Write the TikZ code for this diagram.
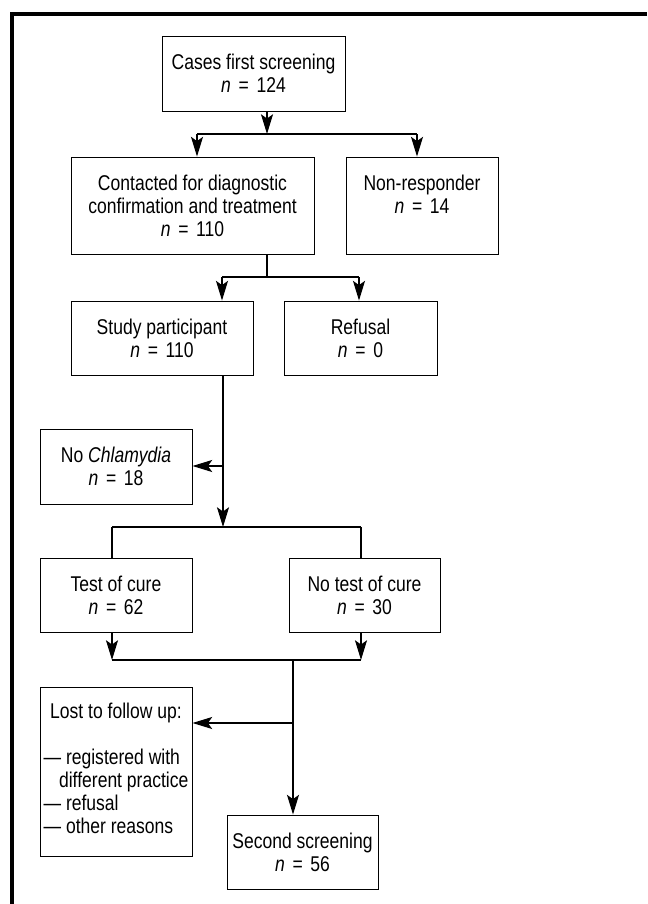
\documentclass[tikz,border=0pt]{standalone}
\usepackage{fontspec}
\setmainfont{Liberation Sans}[FakeStretch=0.82]
\usepackage{tikz}
\usetikzlibrary{positioning, arrows.meta, calc}
\newcommand{\ncount}[1]{\textit{n}\hspace{0.36em}=\hspace{0.36em}#1}

\begin{document}
\begin{tikzpicture}[
        x=0.025cm, y=-0.025cm,
        % Define node styles
        box/.style={draw, line width=0.6pt, rectangle, minimum width=3.8cm, minimum height=1.85cm, align=center, inner sep=2pt, font=\fontsize{15.2}{16.4}\selectfont},
        arr/.style={line width=1.3pt, -{Stealth[length=14pt, width=8.5pt, inset=3pt]}},
        link/.style={line width=1.3pt},
        frame/.style={line width=2.2pt}
    ]
    \useasboundingbox (0,0) rectangle (647,904);

    % --- Outer frame (top and left) ---
    \coordinate (frameTL) at (12,14);
    \coordinate (frameTR) at (647,14);
    \coordinate (frameBL) at (12,904);
    \draw[frame] (frameTR) -- (frameTL) -- (frameBL);

    % --- Boxes ---

    % First screening
    \node[box, minimum width=4.575cm, minimum height=1.875cm] (Cases) at (253.5,73.5) {Cases first screening\\ \ncount{124}};

    % Contacted and non-responders
    \node[box, minimum width=6.075cm, minimum height=2.425cm] (Contacted) at (192.5,205.5) {Contacted for diagnostic\\ confirmation and treatment\\ \ncount{110}};
    \node[box, minimum height=2.425cm] (NonResp) at (422,205.5) {Non-responder\\ \ncount{14}\\ \mbox{}};

    % Participants and refusals
    \node[box, minimum width=4.55cm] (Participant) at (162,338) {Study participant\\ \ncount{110}};
    \node[box, minimum width=3.825cm] (Refusal) at (360.5,338) {Refusal\\ \ncount{0}};

    % No Chlamydia
    \node[box, minimum height=1.875cm] (NoChlam) at (116,466.5) {No \textit{Chlamydia}\\ \ncount{18}};

    % Test of cure
    \node[box] (TestCure) at (116,595) {Test of cure\\ \ncount{62}};
    \node[box, minimum width=3.775cm] (NoTestCure) at (364.5,595) {No test of cure\\ \ncount{30}};

    % Lost to follow up
    \node[box, minimum height=4.225cm, inner sep=1pt] (Lost) at (116,771.5) {%
        \begin{tabular}{@{}l@{}}
        \multicolumn{1}{@{}c@{}}{Lost to follow up:}\\[16.4pt]
        --- registered with\\
        \hspace*{11pt}different practice\\
        --- refusal\\
        --- other reasons
        \end{tabular}};

    % Second screening
    \node[box, minimum width=3.775cm] (Second) at (302.5,852) {Second screening\\ \ncount{56}};

    % --- Junctions ---
    \coordinate (split1) at (267,134);
    \coordinate (split1L) at (197,134);
    \coordinate (split1R) at (417,134);
    \coordinate (split2) at (267,277);
    \coordinate (split2L) at (222,277);
    \coordinate (split2R) at (359,277);
    \coordinate (branch3) at (223,466);
    \coordinate (split3) at (223,527);
    \coordinate (split3L) at (112,527);
    \coordinate (split3R) at (361,527);
    \coordinate (merge4L) at (112,660);
    \coordinate (merge4R) at (361,660);
    \coordinate (merge4) at (293,660);
    \coordinate (branch4) at (293,723);

    % --- Connecting Lines ---

    % Cases to Contacted / Non-responder
    \draw[arr] (split1 |- Cases.south) -- (split1);
    \draw[link] (split1L) -- (split1R);
    \draw[arr] (split1L) -- (split1L |- Contacted.north);
    \draw[arr] (split1R) -- (split1R |- NonResp.north);

    % Contacted to Participant / Refusal
    \draw[link] (split2 |- Contacted.south) -- (split2);
    \draw[link] (split2L) -- (split2R);
    \draw[arr] (split2L) -- (split2L |- Participant.north);
    \draw[arr] (split2R) -- (split2R |- Refusal.north);

    % Participant to No Chlamydia and on
    \draw[arr] (branch3 |- Participant.south) -- (split3);
    \draw[arr] (branch3) -- (NoChlam.east |- branch3);
    \draw[link] (split3L) -- (split3R);
    \draw[link] (split3L) -- (split3L |- TestCure.north);
    \draw[link] (split3R) -- (split3R |- NoTestCure.north);

    % Test of cure to Second screening
    \draw[arr] (merge4L |- TestCure.south) -- (merge4L);
    \draw[arr] (merge4R |- NoTestCure.south) -- (merge4R);
    \draw[link] (merge4L) -- (merge4R);
    \draw[arr] (merge4) -- (merge4 |- Second.north);
    \draw[arr] (branch4) -- (Lost.east |- branch4);

\end{tikzpicture}
\end{document}
